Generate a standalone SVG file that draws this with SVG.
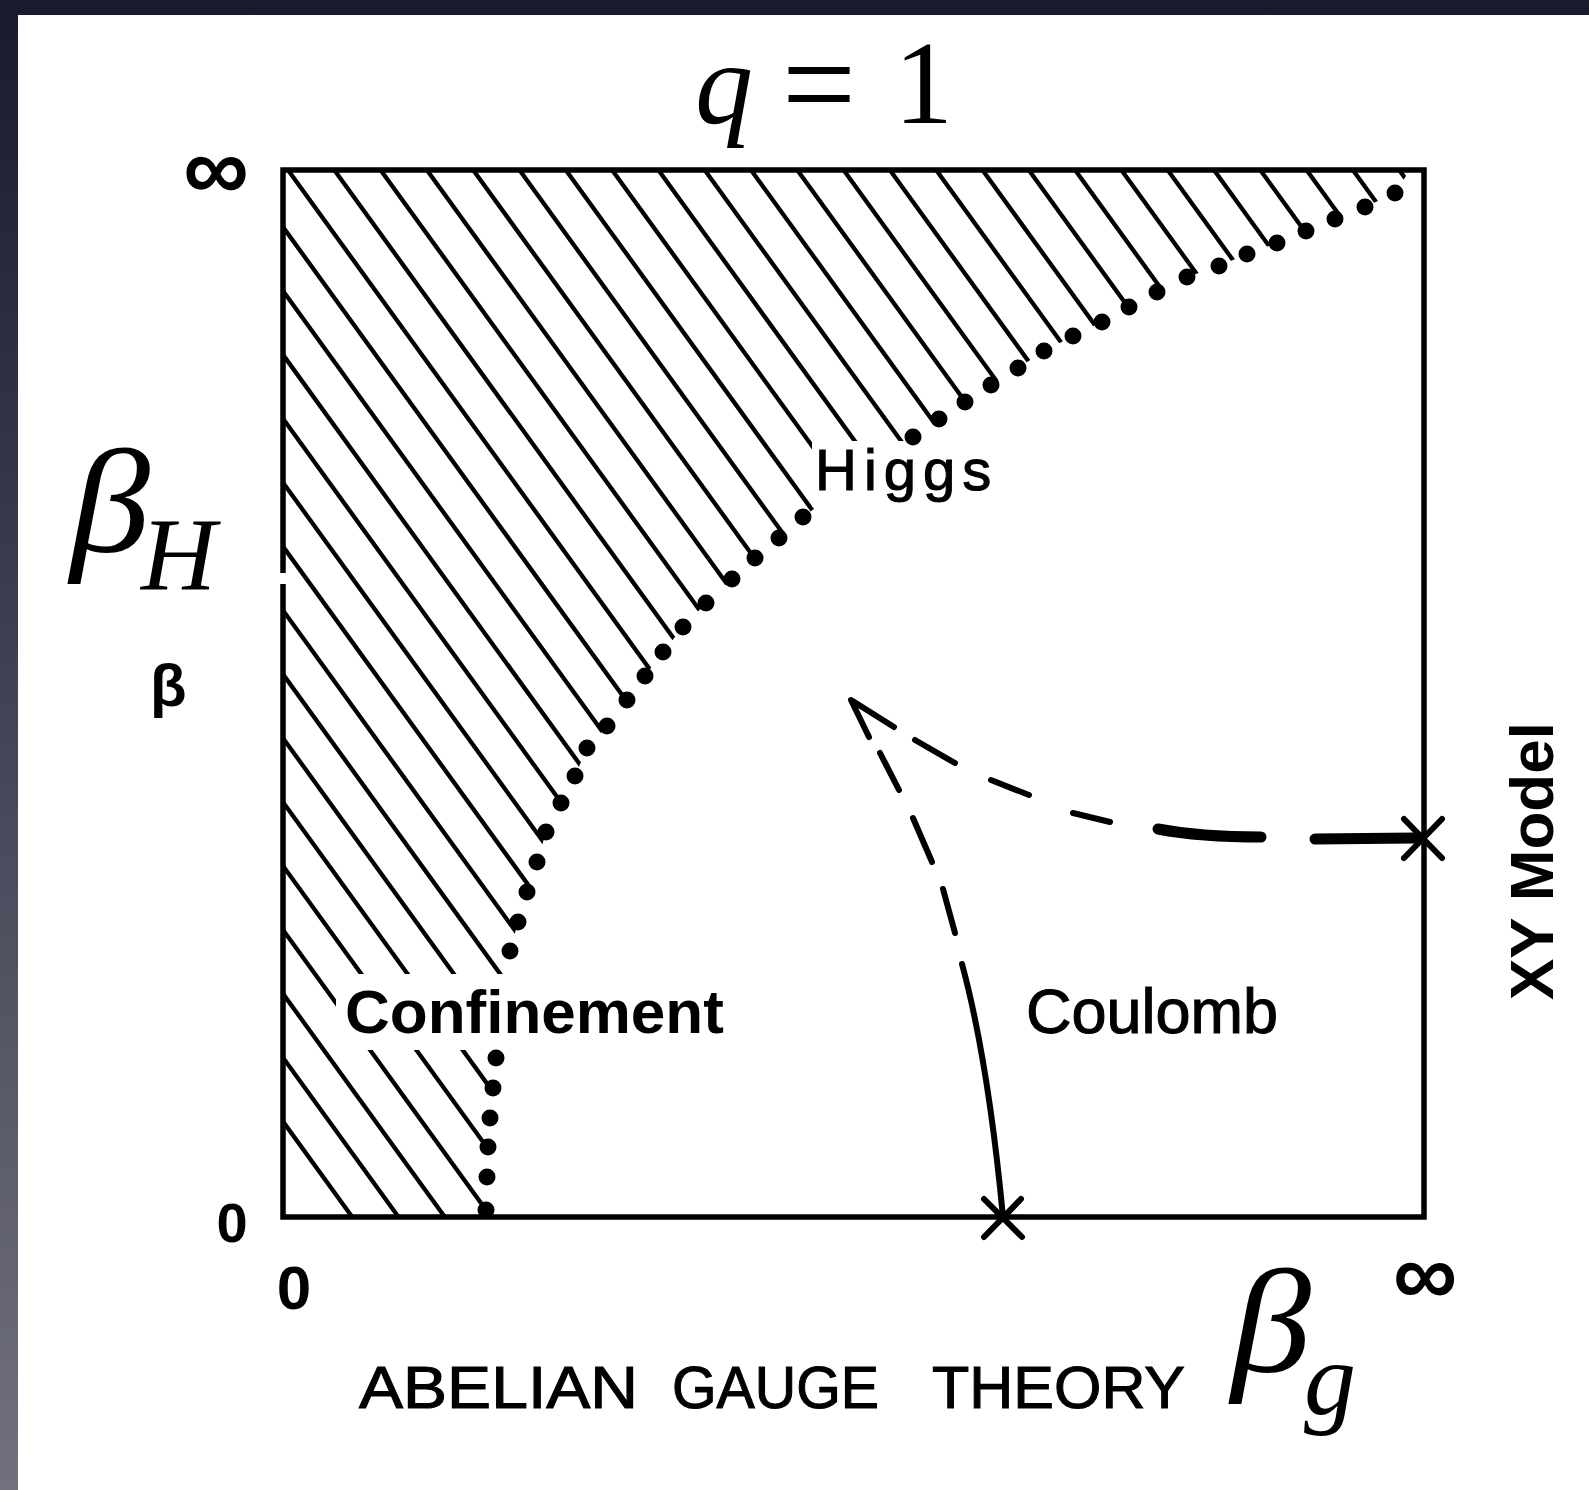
<svg xmlns="http://www.w3.org/2000/svg" width="1589" height="1490" viewBox="0 0 1589 1490">
<defs>
<linearGradient id="bgGrad" x1="0" y1="0" x2="0" y2="1">
<stop offset="0" stop-color="#191a2e"/>
<stop offset="1" stop-color="#70707f"/>
</linearGradient>
<clipPath id="hatchClip">
<polygon points="283,170 1410,170 1398,188 1395,193 1365,207 1335,219 1306,231 1277,243 1247,254 1219,266 1187,277 1157,292 1129,307 1102,322 1073,336 1044,351 1018,368 991,385 965,402 939,419 913,437 858,477 803,517 779,538 755,558 732,579 706,603 683,627 663,652 645,676 627,700 607,726 587,748 575,776 561,803 546,832 537,862 527,892 518,922 510,951 503,1005 496,1058 493,1088 490,1118 488,1147 487,1177 485,1217 283,1217"/>
</clipPath>
<style>
.frame{fill:none;stroke:#000;stroke-width:5.5;stroke-linejoin:miter}
.hatch{fill:none;stroke:#000;stroke-width:4.3}
.dot{fill:#000}
.dash{fill:none;stroke:#000;stroke-width:6;stroke-linecap:round}
.thick{fill:none;stroke:#000;stroke-width:11;stroke-linecap:round}
.cross{fill:none;stroke:#000;stroke-width:6;stroke-linecap:round}
.lbl{font-family:"Liberation Sans",Arial,sans-serif;fill:#000}
.heavy{stroke:#000;stroke-width:1.1}
.math{font-family:"Liberation Serif","Times New Roman",serif;fill:#000}
.it{font-style:italic}
</style>
</defs>
<g id="background">
<rect x="0" y="0" width="1589" height="1490" fill="url(#bgGrad)"/>
<rect x="18" y="15" width="1571" height="1475" fill="#fff"/>
</g>
<g id="hatched-region">
<path class="hatch" clip-path="url(#hatchClip)" d="M-706.5 -244 l1100 1518 M-660.2 -244 l1100 1518 M-613.9 -244 l1100 1518 M-567.6 -244 l1100 1518 M-521.3 -244 l1100 1518 M-475 -244 l1100 1518 M-428.7 -244 l1100 1518 M-382.4 -244 l1100 1518 M-336.1 -244 l1100 1518 M-289.8 -244 l1100 1518 M-243.5 -244 l1100 1518 M-197.2 -244 l1100 1518 M-150.9 -244 l1100 1518 M-104.6 -244 l1100 1518 M-58.3 -244 l1100 1518 M-12 -244 l1100 1518 M34.3 -244 l1100 1518 M80.6 -244 l1100 1518 M126.9 -244 l1100 1518 M173.2 -244 l1100 1518 M219.5 -244 l1100 1518 M265.8 -244 l1100 1518 M312.1 -244 l1100 1518 M358.4 -244 l1100 1518 M404.7 -244 l1100 1518 M451 -244 l1100 1518 M497.3 -244 l1100 1518 M543.6 -244 l1100 1518 M589.9 -244 l1100 1518 M636.2 -244 l1100 1518 M682.5 -244 l1100 1518 M728.8 -244 l1100 1518 M775.1 -244 l1100 1518 M821.4 -244 l1100 1518 M867.7 -244 l1100 1518 M914 -244 l1100 1518 M960.3 -244 l1100 1518 M1006.6 -244 l1100 1518 M1052.9 -244 l1100 1518 M1099.2 -244 l1100 1518"/>
<rect x="336" y="974" width="396" height="76" fill="#fff"/>
<rect x="812" y="441" width="192" height="66" fill="#fff"/>
</g>
<g id="frame">
<path class="frame" d="M283,573 L283,170 L1424,170 L1424,1217 L283,1217 L283,584"/>
</g>
<g id="phase-boundary">
<circle class="dot" cx="1395" cy="193" r="8.5"/>
<circle class="dot" cx="1365" cy="207" r="8.5"/>
<circle class="dot" cx="1335" cy="219" r="8.5"/>
<circle class="dot" cx="1306" cy="231" r="8.5"/>
<circle class="dot" cx="1277" cy="243" r="8.5"/>
<circle class="dot" cx="1247" cy="254" r="8.5"/>
<circle class="dot" cx="1219" cy="266" r="8.5"/>
<circle class="dot" cx="1187" cy="277" r="8.5"/>
<circle class="dot" cx="1157" cy="292" r="8.5"/>
<circle class="dot" cx="1129" cy="307" r="8.5"/>
<circle class="dot" cx="1102" cy="322" r="8.5"/>
<circle class="dot" cx="1073" cy="336" r="8.5"/>
<circle class="dot" cx="1044" cy="351" r="8.5"/>
<circle class="dot" cx="1018" cy="368" r="8.5"/>
<circle class="dot" cx="991" cy="385" r="8.5"/>
<circle class="dot" cx="965" cy="402" r="8.5"/>
<circle class="dot" cx="939" cy="419" r="8.5"/>
<circle class="dot" cx="913" cy="437" r="8.5"/>
<circle class="dot" cx="803" cy="517" r="8.5"/>
<circle class="dot" cx="779" cy="538" r="8.5"/>
<circle class="dot" cx="755" cy="558" r="8.5"/>
<circle class="dot" cx="732" cy="579" r="8.5"/>
<circle class="dot" cx="706" cy="603" r="8.5"/>
<circle class="dot" cx="683" cy="627" r="8.5"/>
<circle class="dot" cx="663" cy="652" r="8.5"/>
<circle class="dot" cx="645" cy="676" r="8.5"/>
<circle class="dot" cx="627" cy="700" r="8.5"/>
<circle class="dot" cx="607" cy="726" r="8.5"/>
<circle class="dot" cx="587" cy="748" r="8.5"/>
<circle class="dot" cx="575" cy="776" r="8.5"/>
<circle class="dot" cx="561" cy="803" r="8.5"/>
<circle class="dot" cx="546" cy="832" r="8.5"/>
<circle class="dot" cx="537" cy="862" r="8.5"/>
<circle class="dot" cx="527" cy="892" r="8.5"/>
<circle class="dot" cx="518" cy="922" r="8.5"/>
<circle class="dot" cx="510" cy="951" r="8.5"/>
<circle class="dot" cx="496" cy="1058" r="8.5"/>
<circle class="dot" cx="493" cy="1088" r="8.5"/>
<circle class="dot" cx="490" cy="1118" r="8.5"/>
<circle class="dot" cx="488" cy="1147" r="8.5"/>
<circle class="dot" cx="487" cy="1177" r="8.5"/>
<circle class="dot" cx="486" cy="1210" r="8.5"/>
</g>
<g id="connectors">
<path class="dash" stroke-width="7" d="M1003,1217 Q988,1060 962,964"/>
<path class="dash" d="M955,933 L943,889"/>
<path class="dash" d="M932,862 L913,818"/>
<path class="dash" d="M899,790 L880,753"/>
<path class="dash" stroke-width="6.5" stroke-linejoin="round" d="M869,737 L851,700 L894,727"/>
<path class="dash" d="M915,740 L955,763"/>
<path class="dash" d="M991,780 L1029,795"/>
<path class="dash" d="M1073,813 L1110,822"/>
<path class="thick" stroke-width="12" d="M1158,829 Q1200,837 1261,837"/>
<path class="thick" d="M1315,839 L1415,838"/>
</g>
<g id="node-coulomb-point">
<path class="cross" d="M984,1199 L1022,1237 M1021,1199 L984,1237"/>
</g>
<g id="node-xy-point">
<path class="cross" d="M1404,819 L1442,858 M1442,819 L1404,858"/>
</g>
<g id="labels">
<text class="math it" x="695" y="123" font-size="116">q</text>
<text class="math" x="782" y="131" font-size="140" textLength="74" lengthAdjust="spacingAndGlyphs">=</text>
<text class="math" x="894" y="123" font-size="118">1</text>
<text class="math it" x="70" y="552" font-size="148" textLength="80" lengthAdjust="spacingAndGlyphs">β</text>
<text class="math it" x="141" y="590" font-size="104">H</text>
<text class="math it" x="1231" y="1372" font-size="148" textLength="80" lengthAdjust="spacingAndGlyphs">β</text>
<text class="math it" x="1304" y="1414" font-size="104">g</text>
<text class="lbl" x="150" y="706" font-size="60" font-weight="bold">β</text>
<text class="lbl" x="216" y="200" font-size="92" font-weight="bold" text-anchor="middle">∞</text>
<text class="lbl" x="232" y="1242" font-size="56" font-weight="bold" text-anchor="middle">0</text>
<text class="lbl" x="294" y="1309" font-size="62" font-weight="bold" text-anchor="middle">0</text>
<text class="lbl" x="1425" y="1305" font-size="90" font-weight="bold" text-anchor="middle">∞</text>
<text class="lbl heavy" x="815" y="490" font-size="58" letter-spacing="7">Higgs</text>
<text class="lbl" x="345" y="1033" font-size="62" font-weight="bold">Confinement</text>
<text class="lbl heavy" x="1026" y="1033" font-size="63">Coulomb</text>
<text class="lbl" x="1553" y="1000" font-size="62" font-weight="bold" transform="rotate(-90 1553 1000)">XY Model</text>
<text class="lbl heavy" x="359" y="1408" font-size="60" textLength="279" lengthAdjust="spacingAndGlyphs">ABELIAN</text>
<text class="lbl heavy" x="672" y="1408" font-size="60" textLength="207" lengthAdjust="spacingAndGlyphs">GAUGE</text>
<text class="lbl heavy" x="932" y="1408" font-size="60" textLength="253" lengthAdjust="spacingAndGlyphs">THEORY</text>
</g>
</svg>
